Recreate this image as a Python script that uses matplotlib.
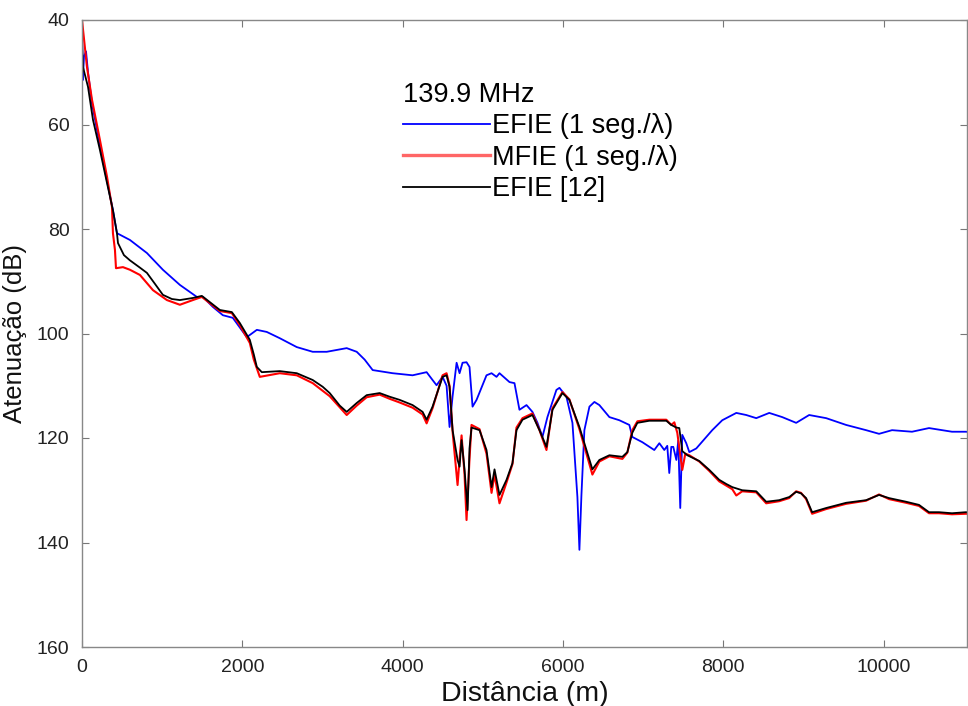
import matplotlib
matplotlib.use("Agg")
import matplotlib.pyplot as plt

plt.rcParams['font.family'] = ['Liberation Sans', 'DejaVu Sans']

# Distance (m) and attenuation (dB) for each method
efie_dist = [0, 10, 25, 50, 75, 125, 224, 312, 386, 436, 598, 810, 1009, 1221, 1433,
             1508, 1632, 1757, 1881, 2056, 2181, 2305, 2467, 2679, 2878, 3053, 3302,
             3427, 3526, 3626, 3875, 4124, 4299, 4373, 4423, 4498, 4548, 4585, 4623,
             4673, 4710, 4747, 4797, 4834, 4872, 4922, 5046, 5109, 5171, 5208, 5333,
             5395, 5457, 5545, 5619, 5682, 5744, 5806, 5918, 5956, 6043, 6118, 6180,
             6205, 6230, 6267, 6330, 6392, 6454, 6579, 6703, 6828, 6865, 6990, 7139,
             7202, 7264, 7301, 7326, 7351, 7376, 7414, 7438, 7463, 7488, 7538, 7576,
             7663, 7788, 7862, 7987, 8162, 8286, 8411, 8573, 8735, 8909, 9071, 9283,
             9532, 9781, 9943, 10105, 10354, 10566, 10853, 11027, 11100]
efie_att = [40, 51.5, 47, 46, 50, 56, 64, 70.8, 76.4, 80.8, 82.1, 84.6, 87.8, 90.7, 93,
            93, 94.9, 96.5, 97, 100.7, 99.3, 99.7, 100.9, 102.6, 103.5, 103.5, 102.8,
            103.5, 105, 107, 107.6, 108, 107.4, 108.9, 109.9, 108.3, 110, 117.9, 112,
            105.6, 107.6, 105.6, 105.5, 106.4, 114, 112.7, 108, 107.6, 108.3, 107.6, 109.3,
            109.5, 114.6, 113.7, 115, 117.1, 119.8, 116, 110.8, 110.4, 112.1, 117.1, 131.3,
            141.4, 131, 118.5, 114, 113.1, 113.7, 116, 116.6, 117.5, 119.8, 120.8, 122.3,
            121, 122.3, 121.5, 126.7, 121.7, 121.7, 124.2, 120.5, 133.4, 119.4, 121, 122.7,
            122, 119.8, 118.5, 116.6, 115.2, 115.6, 116.2, 115.2, 116, 117.1, 115.6, 116.2,
            117.5, 118.5, 119.2, 118.5, 118.8, 118.1, 118.8, 118.8, 118.9]

mfie_dist = [0, 62, 125, 224, 312, 374, 386, 411, 424, 511, 598, 723, 885, 1059, 1221,
             1383, 1495, 1595, 1720, 1869, 1969, 2093, 2143, 2218, 2467, 2679, 2878,
             3090, 3302, 3427, 3551, 3713, 3838, 3962, 4124, 4249, 4299, 4373, 4498,
             4548, 4585, 4623, 4685, 4710, 4735, 4772, 4797, 4834, 4859, 4959, 5046,
             5109, 5146, 5208, 5296, 5370, 5420, 5495, 5619, 5707, 5794, 5869, 5993,
             6080, 6205, 6367, 6454, 6579, 6741, 6803, 6865, 6928, 7077, 7289, 7351,
             7389, 7426, 7488, 7526, 7576, 7700, 7825, 7949, 8112, 8162, 8236, 8411,
             8535, 8697, 8822, 8909, 8970, 9033, 9108, 9283, 9532, 9781, 9943, 10068,
             10280, 10441, 10566, 10691, 10853, 11027, 11100]
mfie_att = [40, 49, 55.3, 63, 70, 75.8, 80.8, 84, 87.5, 87.3, 87.8, 88.8, 91.7, 93.6, 94.5,
            93.6, 93, 94.2, 95.7, 96.1, 98.4, 101.8, 105, 108.3, 107.6, 108, 109.5,
            112, 115.6, 113.8, 112.2, 111.7, 112.5, 113.2, 114.2, 115.5, 117.2, 114.3, 108,
            107.6, 110, 118.8, 129, 124, 119.5, 127, 135.7, 124, 117.5, 118.3, 123,
            130.5, 127, 132.5, 128.5, 125, 118, 116.2, 115.3, 118.5, 122.3, 114.3, 111.2,
            112.6, 118.3, 127, 124.5, 123.5, 124, 122.8, 118.5, 116.8, 116.5, 116.5, 117.5,
            117, 119, 126.1, 123, 123.3, 124.5, 126.3, 128.3, 129.8, 131, 130.2, 130.4,
            132.5, 132.1, 131.5, 130.2, 130.5, 131.7, 134.5, 133.6, 132.6, 132, 130.8, 131.7,
            132.4, 133, 134.4, 134.4, 134.6, 134.5, 134.6]

ref_dist = [0, 12, 75, 137, 224, 312, 386, 436, 449, 523, 598, 723, 810, 910, 1009,
            1121, 1221, 1383, 1495, 1595, 1720, 1869, 1969, 2093, 2143, 2181, 2243,
            2467, 2679, 2878, 3003, 3090, 3215, 3302, 3427, 3551, 3713, 3838, 3962,
            4124, 4249, 4299, 4373, 4498, 4548, 4585, 4623, 4685, 4710, 4735, 4772,
            4810, 4834, 4859, 4959, 5046, 5109, 5146, 5208, 5296, 5370, 5420, 5495,
            5619, 5707, 5794, 5869, 5993, 6080, 6205, 6367, 6454, 6579, 6741, 6803,
            6865, 6928, 7077, 7289, 7351, 7414, 7451, 7488, 7551, 7700, 7825, 7949,
            8037, 8112, 8236, 8411, 8535, 8697, 8822, 8909, 8970, 9033, 9108, 9283,
            9532, 9781, 9943, 10068, 10280, 10441, 10566, 10691, 10853, 11027, 11100]
ref_att = [44, 49, 52.8, 59.1, 64.9, 71.2, 76.4, 80.8, 82.7, 85, 86, 87.4, 88.4, 90.5, 92.6,
           93.4, 93.6, 93.2, 92.8, 94, 95.5, 95.9, 98, 101.2, 104, 106.4, 107.4,
           107.2, 107.6, 108.9, 110.2, 111.4, 113.8, 115, 113.3, 111.8, 111.4, 112.1, 112.7,
           113.7, 115, 116.5, 114, 108.3, 108, 110.2, 118.5, 124.2, 125.5, 120.4, 126,
           133.8, 122, 118, 118.5, 122.3, 129.4, 126, 130.9, 128, 124.8, 118.5, 116.5,
           115.6, 118.5, 121.7, 114.6, 111.4, 112.7, 117.9, 126, 124.2, 123.3, 123.6, 122.7,
           119, 117.1, 116.7, 116.7, 117.5, 118, 118.1, 122.5, 123.3, 124.4, 126.1, 128,
           128.8, 129.4, 130, 130.2, 132.2, 131.9, 131.3, 130.3, 130.6, 131.5, 134.2, 133.4,
           132.4, 131.9, 130.9, 131.5, 132.2, 132.8, 134.2, 134.2, 134.4, 134.2, 134.3]

legend_title = "139.9 MHz"
series_labels = ["EFIE (1 seg./\u03bb)", "MFIE (1 seg./\u03bb)", "EFIE [12]"]
x_ticks = [0, 2000, 4000, 6000, 8000, 10000]
y_ticks = [40, 60, 80, 100, 120, 140, 160]

W, H = 968, 706
fig = plt.figure(figsize=(W / 100, H / 100), dpi=100)
ax = fig.add_axes([82 / W, 1 - 647 / H, (967 - 82) / W, (647 - 20) / H])

l1, = ax.plot(efie_dist, efie_att, color=(0, 0, 1), lw=1.3)
l2, = ax.plot(mfie_dist, mfie_att, color=(1, 0, 0), lw=1.5)
l3, = ax.plot(ref_dist, ref_att, color="black", lw=1.3)

ax.set_xlim(0, 11040)
ax.set_ylim(160, 40)
ax.set_xticks(x_ticks)
ax.set_yticks(y_ticks)
ax.tick_params(direction="in", length=5, width=0.8, colors="#777777",
               labelcolor="#222222", labelsize=14, top=True, right=True, pad=9)
for s in ax.spines.values():
    s.set_color("#888888")
    s.set_linewidth(1.0)

ax.set_xlabel("Distância (m)", fontsize=20.5, labelpad=3, color="#111111")
ax.set_ylabel("Atenuação (dB)", fontsize=18.5, labelpad=7, color="#111111")

leg = ax.legend([l1, l2, l3], series_labels, title=legend_title,
                loc="upper left", bbox_to_anchor=(403 / W, 1 - 82 / H),
                bbox_transform=fig.transFigure, frameon=False, fontsize=19.5,
                title_fontsize=19.5, alignment="left", handlelength=3.2,
                handletextpad=0.1, labelspacing=0.2, borderaxespad=0,
                borderpad=0)
leg._legend_handle_box.sep = 7
leg.get_lines()[1].set_color("#ff6666")
leg.get_lines()[1].set_linewidth(2.4)

fig.savefig("out.png", dpi=100)
